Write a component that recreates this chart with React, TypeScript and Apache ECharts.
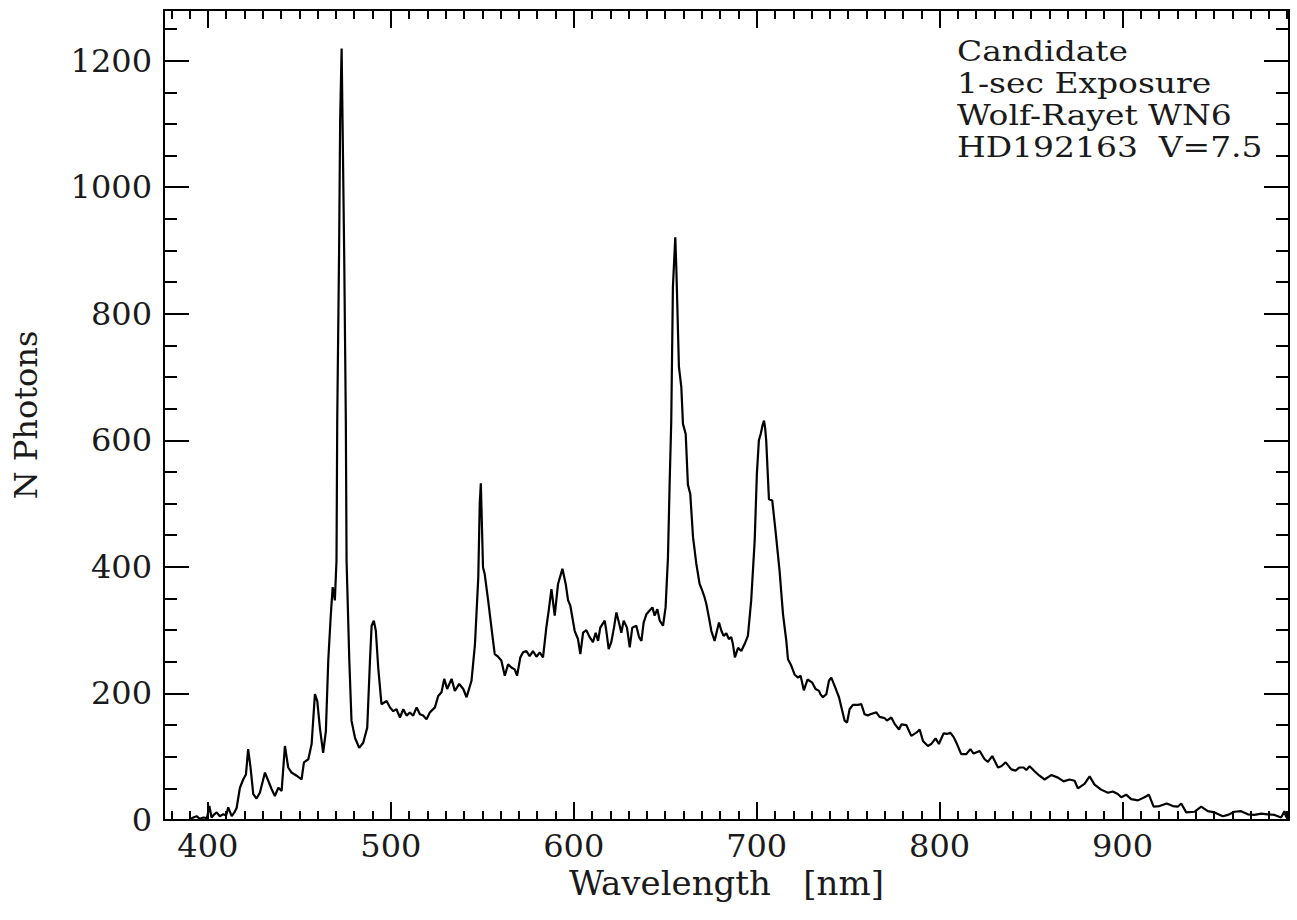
import React, { useEffect, useRef } from "react";
import * as echarts from "echarts";

// Wavelength [nm], N photons
const spectrumBlue: [number, number][] = [
  [390.2, 1], [392, 4], [393.8, 6], [395.5, 2], [397.5, 4], [399.5, 3], [400.8, 22], [402, 4],
  [403.5, 9], [404.8, 12], [406.5, 6], [408.4, 9], [410, 7], [411.1, 20], [413, 6], [414.5, 12],
  [415.7, 19], [417.5, 51], [419.3, 64], [420.8, 72], [422, 112], [423.3, 83], [424.8, 41],
  [426.6, 34], [428.4, 43], [431.2, 75], [433, 62], [434.8, 49], [436.6, 38], [438.5, 51],
  [440.3, 46], [442.1, 117], [443.9, 83], [445.7, 75], [448.5, 70], [451.2, 64], [452.5, 91],
  [454.9, 96], [456.7, 120], [458.5, 199], [459.8, 188], [461.2, 146], [463, 106], [464.5, 141],
  [465.8, 252], [467.1, 320], [468.2, 368], [469.4, 347], [470.3, 410],
];

const spectrumHeII: [number, number][] = [
  [470.7, 631], [471.7, 895], [472.3, 1106], [473.1, 1219], [473.6, 1106], [474.5, 895],
  [475.4, 631], [475.8, 410], [477.3, 252], [478.5, 157], [480.4, 130], [482.7, 114],
  [484.9, 122], [487.1, 146], [488.6, 252], [489.5, 307], [490.7, 315], [491.8, 299],
  [493.1, 241], [494.9, 183], [497.7, 188], [499.5, 178], [501.3, 172], [503.1, 175],
  [505, 162], [506.8, 175], [508.6, 165], [510.4, 170], [512.2, 165], [514.1, 178],
  [515.9, 167], [517.7, 165], [519.5, 159], [521.3, 170], [524.1, 178], [525.9, 196],
  [527.7, 202], [529.2, 223], [530.8, 207], [533.2, 223], [535, 204], [537.4, 215],
  [539.6, 207], [541.4, 194], [544.1, 220], [546, 278], [547.8, 383], [548.6, 500],
];

const spectrumGreen: [number, number][] = [
  [549.2, 532], [550.4, 399], [551.3, 389], [553.2, 347], [555, 304], [556.8, 262],
  [558.6, 258], [560.4, 252], [562.3, 228], [564.1, 246], [565.9, 241], [567.7, 238],
  [569, 228], [570.8, 257], [572.3, 265], [574.1, 267], [575.9, 259], [577.7, 267],
  [579.6, 258], [581.4, 265], [583.2, 257], [585, 304], [586.3, 331], [587.8, 365],
  [589.6, 323], [591.4, 373], [593.8, 397], [595.6, 373], [596.9, 347], [598.1, 339],
  [600.5, 299], [602.3, 286], [603.6, 262], [605.1, 296], [606.9, 300], [608.7, 289],
  [610.5, 281], [612, 296], [613.3, 283], [614.5, 304], [616.9, 315], [617.8, 299],
  [619.1, 270], [620.5, 281], [622, 304], [623.3, 328], [624.7, 312], [626, 296],
  [627.3, 315], [629.1, 304], [630.6, 273], [632, 304], [634.2, 307], [635.7, 289],
  [637, 283], [638.2, 312], [639.7, 325], [641.5, 331], [643, 336], [644.2, 323],
  [645.7, 333], [647, 315], [648.8, 307], [650.2, 336], [651.5, 415],
];

const spectrumRed: [number, number][] = [
  [652.4, 530], [653.3, 630], [654.2, 842], [655.5, 921], [656.1, 869], [657.5, 716],
  [658.8, 684], [659.7, 626], [661.2, 610], [662.4, 530], [663.7, 515], [665.2, 447],
  [667, 405], [668.8, 373], [670.3, 362], [671.5, 352], [672.5, 341], [673.9, 320],
  [675.2, 299], [677, 283], [678.3, 299], [679.4, 312], [680.7, 299], [681.9, 291],
  [683.4, 295], [684.8, 286], [686.1, 289], [687, 278], [688.1, 257], [689.8, 272],
  [691.6, 267], [693.4, 278], [695.2, 291], [697, 347], [698.9, 441], [700.1, 547],
  [701.2, 600], [702.2, 610], [703.3, 625], [704, 631], [704.6, 620], [705.2, 600],
  [706.7, 507], [708.5, 505], [710.3, 457], [712.5, 394], [714.4, 325], [716.2, 283],
  [717.1, 254], [718.9, 244], [720.7, 230], [722.6, 225], [724, 228], [725.8, 205],
  [727.8, 222],
];

const spectrumInfrared: [number, number][] = [
  [730.4, 217], [732.2, 207], [734.1, 204], [734.8, 199], [736.2, 194], [738.1, 199],
  [739.5, 220], [740.8, 225], [742.6, 212], [745, 194], [746.3, 178], [748.1, 157],
  [749.4, 154], [750.8, 175], [752.6, 182], [755.4, 182], [757.2, 183], [759, 167],
  [760.8, 165], [762.1, 167], [765.4, 170], [767.2, 163], [770, 161], [771.2, 157],
  [773.6, 162], [775.4, 152], [777.8, 143], [779.1, 151], [781.8, 150], [784.5, 133],
  [787.3, 138], [789.1, 143], [790.9, 125], [793.6, 117], [795.4, 120], [797.8, 129],
  [799.6, 120], [802.2, 137], [804, 136], [805.8, 138], [807.7, 131], [809.5, 120],
  [811.8, 104], [814.6, 104], [816.8, 112], [818.6, 105], [821.9, 109], [824.6, 96],
  [826.4, 92], [828.8, 101], [831.9, 83], [833.7, 85], [836.1, 91], [839.2, 80],
  [841.5, 78], [843.7, 83], [845.9, 83], [847.4, 79], [849.2, 85], [851.9, 77],
  [854.6, 70], [857.4, 64], [861, 71], [864.7, 67], [867.8, 61], [871, 64], [873.8, 62],
  [875.6, 50], [879.2, 57], [882, 69], [884.7, 56], [888.3, 48], [892, 43], [894.7, 45],
  [897.4, 41], [899.3, 36], [902, 40], [904.7, 33], [908.4, 31], [912, 36], [914.4, 40],
  [917, 21], [920.2, 22], [924.2, 26], [927.5, 22], [930.2, 21], [932.1, 26], [934.8, 12],
  [939.3, 13], [943, 21], [946.6, 14], [950.3, 12], [954.8, 6], [957.6, 8], [961.2, 13],
  [964.8, 14], [968.5, 9], [972.1, 8], [975.8, 10], [979.4, 9], [983.1, 8], [986.7, 4],
  [988.5, 14], [989.5, 4],
];

const xMajorTicks = [400, 500, 600, 700, 800, 900];
const yMajorTicks = [0, 200, 400, 600, 800, 1000, 1200];
const infoLines = ["Candidate", "1-sec Exposure", "Wolf-Rayet WN6", "HD192163  V=7.5"];

const X_MIN = 376;
const X_MAX = 991;
const Y_MIN = 0;
const Y_MAX = 1280;

const FONT = '"DejaVu Serif", "Liberation Serif", serif';
const INK = "#1a1a1a";

function range(from: number, to: number, step: number): number[] {
  const out: number[] = [];
  for (let v = from; v <= to + 1e-9; v += step) out.push(Math.round(v * 1000) / 1000);
  return out;
}

export default function App() {
  const ref = useRef<HTMLDivElement>(null);

  useEffect(() => {
    if (!ref.current) return;
    const chart = echarts.init(ref.current, undefined, { renderer: "svg" });

    const xMinor = range(380, 990, 10);
    const yMinor = range(0, 1250, 50);

    const lineStyle = { color: "#000", width: 2 };
    const plain = (v: number) => String(v);

    const xBase = (position: "bottom" | "top", ticks: number[], len: number, showLine: boolean, labels: boolean) => ({
      type: "value" as const,
      position,
      min: X_MIN,
      max: X_MAX,
      axisLine: { show: showLine, onZero: false, lineStyle },
      axisTick: { show: true, inside: true, length: len, lineStyle, customValues: ticks },
      axisLabel: labels
        ? { show: true, customValues: xMajorTicks, margin: 10, fontFamily: FONT, fontSize: 32, color: INK, formatter: plain }
        : { show: false },
      splitLine: { show: false },
    });

    const yBase = (position: "left" | "right", ticks: number[], len: number, showLine: boolean, labels: boolean) => ({
      type: "value" as const,
      position,
      min: Y_MIN,
      max: Y_MAX,
      axisLine: { show: showLine, onZero: false, lineStyle },
      axisTick: { show: true, inside: true, length: len, lineStyle, customValues: ticks },
      axisLabel: labels
        ? { show: true, customValues: yMajorTicks, margin: 12, fontFamily: FONT, fontSize: 32, color: INK, formatter: plain }
        : { show: false },
      splitLine: { show: false },
    });

    const xAxes = [
      {
        ...xBase("bottom", xMajorTicks, 18, true, true),
        name: "Wavelength   [nm]",
        nameLocation: "middle",
        nameGap: 46,
        nameMoveOverlap: false,
        nameTextStyle: { fontFamily: FONT, fontSize: 34, color: INK },
      },
      xBase("bottom", xMinor, 9, false, false),
      xBase("top", xMajorTicks, 18, true, false),
      xBase("top", xMinor, 9, false, false),
    ];

    const yAxes = [
      {
        ...yBase("left", yMajorTicks, 25, true, true),
        name: "N Photons",
        nameLocation: "middle",
        nameRotate: 90,
        nameGap: 122,
        nameMoveOverlap: false,
        nameTextStyle: { fontFamily: FONT, fontSize: 32, color: INK },
      },
      yBase("left", yMinor, 13, false, false),
      yBase("right", yMajorTicks, 25, true, false),
      yBase("right", yMinor, 13, false, false),
    ];

    const data = [
      ...spectrumBlue,
      ...spectrumHeII,
      ...spectrumGreen,
      ...spectrumRed,
      ...spectrumInfrared,
    ];

    chart.setOption({
      animation: false,
      backgroundColor: "#ffffff",
      grid: { left: 164, right: 8, top: 10, bottom: 100, containLabel: false },
      xAxis: xAxes,
      yAxis: yAxes,
      series: [
        {
          type: "line",
          xAxisIndex: 0,
          yAxisIndex: 0,
          data,
          showSymbol: false,
          symbol: "none",
          lineStyle: { color: "#000", width: 2.2 },
          clip: true,
        },
      ],
      graphic: infoLines.map((line, i) => ({
        type: "text",
        x: 957,
        y: 38 + i * 32,
        scaleX: 1.22,
        style: {
          text: line,
          font: `27px ${FONT}`,
          fill: INK,
          lineHeight: 28,
        },
      })),
    });

    return () => chart.dispose();
  }, []);

  return (
    <div
      ref={ref}
      style={{ position: "absolute", left: 0, top: 0, width: 1297, height: 920, background: "#fff" }}
    />
  );
}
